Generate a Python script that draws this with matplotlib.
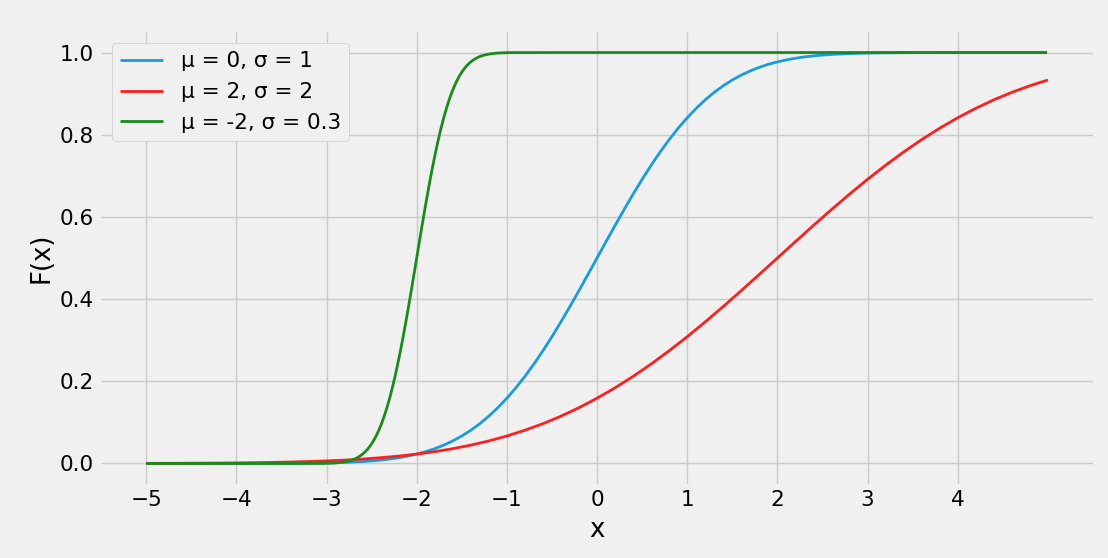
import matplotlib
matplotlib.use("Agg")
import matplotlib.pyplot as plt
import numpy as np

plt.style.use("fivethirtyeight")
plt.rcParams['font.family'] = ['DejaVu Sans']

labels = ["μ = 0, σ = 1", "μ = 2, σ = 2", "μ = -2, σ = 0.3"]
colors = ["#1a9bdc", "#fb1f1f", "#1b8a1b"]

# blue: mu=0, sigma=1  (x: -5, -4.5, -4, then -3.5..3.5 by 0.1, then 4, 4.5, 4.99)
x_blue = np.concatenate([[-5.0, -4.5, -4.0], np.round(np.arange(-3.5, 3.55, 0.1), 2), [4.0, 4.5, 4.99]])
y_blue = [0.0000003, 0.0000034, 0.0000317,
          0.0002, 0.0003, 0.0005, 0.0007, 0.0010, 0.0013, 0.0019, 0.0026, 0.0035, 0.0047,
          0.0062, 0.0082, 0.0107, 0.0139, 0.0179, 0.0228, 0.0287, 0.0359, 0.0446, 0.0548,
          0.0668, 0.0808, 0.0968, 0.1151, 0.1357, 0.1587, 0.1841, 0.2119, 0.2420, 0.2743,
          0.3085, 0.3446, 0.3821, 0.4207, 0.4602, 0.5000, 0.5398, 0.5793, 0.6179, 0.6554,
          0.6915, 0.7257, 0.7580, 0.7881, 0.8159, 0.8413, 0.8643, 0.8849, 0.9032, 0.9192,
          0.9332, 0.9452, 0.9554, 0.9641, 0.9713, 0.9772, 0.9821, 0.9861, 0.9893, 0.9918,
          0.9938, 0.9953, 0.9965, 0.9974, 0.9981, 0.9987, 0.9990, 0.9993, 0.9995, 0.9997,
          0.9998,
          1.0, 1.0, 1.0]

# red: mu=2, sigma=2  (x: -5..5 by 0.2)
x_red = np.round(np.arange(-5.0, 5.05, 0.2), 2)
y_red = [0.0002, 0.0003, 0.0005, 0.0007, 0.0010, 0.0013, 0.0019, 0.0026, 0.0035, 0.0047,
         0.0062, 0.0082, 0.0107, 0.0139, 0.0179, 0.0228, 0.0287, 0.0359, 0.0446, 0.0548,
         0.0668, 0.0808, 0.0968, 0.1151, 0.1357, 0.1587, 0.1841, 0.2119, 0.2420, 0.2743,
         0.3085, 0.3446, 0.3821, 0.4207, 0.4602, 0.5000, 0.5398, 0.5793, 0.6179, 0.6554,
         0.6915, 0.7257, 0.7580, 0.7881, 0.8159, 0.8413, 0.8643, 0.8849, 0.9032, 0.9192,
         0.9332]

# green: mu=-2, sigma=0.3  (x: -5, -4, -3.5, then -3.05..-0.95 by 0.03, then flat to 4.99)
x_green = np.concatenate([[-5.0, -4.0, -3.5], np.round(np.arange(-3.05, -0.935, 0.03), 3),
                          [-0.5, 0.0, 1.0, 2.0, 3.0, 4.0, 4.99]])
y_green = [0.0, 0.0, 0.0,
           0.0002, 0.0003, 0.0005, 0.0007, 0.0010, 0.0013, 0.0019, 0.0026, 0.0035, 0.0047,
           0.0062, 0.0082, 0.0107, 0.0139, 0.0179, 0.0228, 0.0287, 0.0359, 0.0446, 0.0548,
           0.0668, 0.0808, 0.0968, 0.1151, 0.1357, 0.1587, 0.1841, 0.2119, 0.2420, 0.2743,
           0.3085, 0.3446, 0.3821, 0.4207, 0.4602, 0.5000, 0.5398, 0.5793, 0.6179, 0.6554,
           0.6915, 0.7257, 0.7580, 0.7881, 0.8159, 0.8413, 0.8643, 0.8849, 0.9032, 0.9192,
           0.9332, 0.9452, 0.9554, 0.9641, 0.9713, 0.9772, 0.9821, 0.9861, 0.9893, 0.9918,
           0.9938, 0.9953, 0.9965, 0.9974, 0.9981, 0.9987, 0.9990, 0.9993, 0.9995, 0.9997,
           0.9998,
           1.0, 1.0, 1.0, 1.0, 1.0, 1.0, 1.0]

xticks = [-5, -4, -3, -2, -1, 0, 1, 2, 3, 4]
yticks = [0.0, 0.2, 0.4, 0.6, 0.8, 1.0]

fig = plt.figure(figsize=(11.08, 5.58), dpi=100)
fig.patch.set_facecolor("#f0f0f0")
ax = fig.add_axes([0.0912, 0.1326, 0.8953, 0.8101])
ax.set_facecolor("#f0f0f0")

for xs, ys, c, lab in [(x_blue, y_blue, colors[0], labels[0]),
                       (x_red, y_red, colors[1], labels[1]),
                       (x_green, y_green, colors[2], labels[2])]:
    m = min(len(xs), len(ys))
    ax.plot(xs[:m], ys[:m], color=c, lw=2.0, label=lab)

ax.set_xlim(-5.5, 5.5)
ax.set_ylim(-0.05, 1.05)
ax.set_xticks(xticks)
ax.set_yticks(yticks)
ax.tick_params(axis='both', labelsize=15.5, length=0)
ax.tick_params(axis='x', pad=4)
ax.tick_params(axis='y', pad=5)
ax.grid(True, color="#cbcbcb", lw=1.0)
for s in ax.spines.values():
    s.set_visible(False)
ax.set_xlabel("x", fontsize=18.7, labelpad=5)
ax.set_ylabel("F(x)", fontsize=18.7, labelpad=4)

leg = ax.legend(loc="upper left", fontsize=15.5, frameon=True, fancybox=True,
                borderaxespad=0.5)
leg.get_frame().set_facecolor("#f0f0f0")
leg.get_frame().set_edgecolor("#cccccc")
leg.get_frame().set_alpha(1.0)

fig.savefig("out.png", dpi=100, facecolor=fig.get_facecolor())
